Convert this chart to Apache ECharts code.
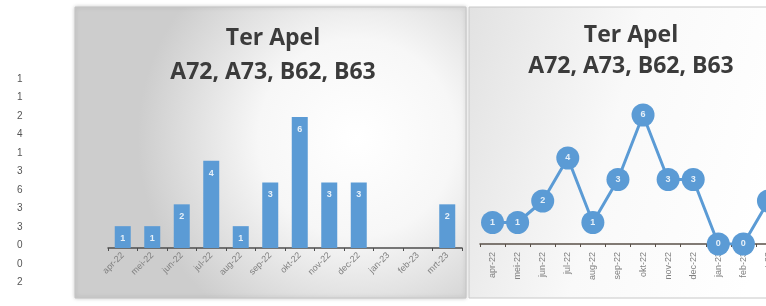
<!DOCTYPE html>
<html lang="nl">
<head>
    <meta charset="UTF-8">
    <title>Ter Apel A72, A73, B62, B63</title>
    <script src="https://cdn.jsdelivr.net/npm/echarts@6/dist/echarts.min.js"></script>
    <style>
        html, body { margin: 0; padding: 0; background: #ffffff; overflow: hidden; }
        /* breder dan het venster: de rechtergrafiek loopt door voorbij de rand */
        #chart { width: 800px; height: 306px; }
    </style>
</head>
<body>
    <div id="chart"></div>
    <script>
        // maanden en aantallen (apr-22 t/m mrt-23)
        var months = ['apr-22', 'mei-22', 'jun-22', 'jul-22', 'aug-22', 'sep-22',
                      'okt-22', 'nov-22', 'dec-22', 'jan-23', 'feb-23', 'mrt-23'];
        var counts = [1, 1, 2, 4, 1, 3, 6, 3, 3, 0, 0, 2];
        var titleLines = ['Ter Apel', 'A72, A73, B62, B63'];

        var blue = '#5b9bd5';
        var axisGray = '#4d4d4d';
        var titleFont = '"Open Sans", "Noto Sans", sans-serif';

        var myChart = echarts.init(document.getElementById('chart'));

        // kolom met getallen links
        var numberColumn = counts.map(function (v, i) {
            return {
                type: 'text',
                left: 17,
                top: 74 + i * 18.5,
                z: 5,
                style: { text: String(v), fill: '#555', font: '10px "Liberation Sans", sans-serif' }
            };
        });

        var option = {
            animation: false,
            graphic: [
                {
                    type: 'rect', z: -10,
                    shape: { x: 75, y: 7, width: 391, height: 291 },
                    style: {
                        fill: new echarts.graphic.RadialGradient(0.72, 0.45, 0.75, [
                            { offset: 0, color: '#ffffff' },
                            { offset: 0.45, color: '#f7f7f7' },
                            { offset: 1, color: '#cdcdcd' }
                        ]),
                        stroke: '#c4c4c4', lineWidth: 1,
                        shadowBlur: 4, shadowColor: 'rgba(0,0,0,0.2)'
                    }
                },
                {
                    type: 'rect', z: -10,
                    shape: { x: 469, y: 7, width: 330, height: 291 },
                    style: {
                        fill: new echarts.graphic.LinearGradient(0, 0, 1, 0.3, [
                            { offset: 0, color: '#e2e2e2' },
                            { offset: 0.5, color: '#f9f9f9' },
                            { offset: 1, color: '#ffffff' }
                        ]),
                        stroke: '#c8c8c8', lineWidth: 1
                    }
                }
            ].concat(numberColumn),
            title: [
                {
                    text: titleLines.join('\n'),
                    left: 268, top: 16, textAlign: 'center',
                    textStyle: { fontFamily: titleFont, fontWeight: 'bold', fontSize: 23, lineHeight: 34, color: '#3b3b3b' }
                },
                {
                    text: titleLines.join('\n'),
                    left: 626, top: 15, textAlign: 'center',
                    textStyle: { fontFamily: titleFont, fontWeight: 'bold', fontSize: 23, lineHeight: 31, color: '#3b3b3b' }
                }
            ],
            grid: [
                { left: 108, width: 354, top: 117, height: 131 },
                { left: 480, width: 301, top: 115, height: 129 }
            ],
            xAxis: [
                {
                    gridIndex: 0, type: 'category', data: months,
                    axisLine: { lineStyle: { color: axisGray, width: 1.5 } },
                    axisTick: { show: true, length: 3, lineStyle: { color: axisGray } },
                    axisLabel: { rotate: 45, interval: 0, fontSize: 9, color: '#808080', margin: 6 }
                },
                {
                    gridIndex: 1, type: 'category', data: months,
                    axisLine: { lineStyle: { color: '#5a5048', width: 1.5 } },
                    axisTick: { show: true, length: 3, lineStyle: { color: '#5a5048' } },
                    axisLabel: { rotate: 90, interval: 0, fontSize: 9, color: '#808080', margin: 8 }
                }
            ],
            yAxis: [
                { gridIndex: 0, type: 'value', min: 0, max: 6, show: false },
                { gridIndex: 1, type: 'value', min: 0, max: 6, show: false }
            ],
            series: [
                {
                    type: 'bar', xAxisIndex: 0, yAxisIndex: 0,
                    data: counts, barWidth: 16,
                    itemStyle: { color: blue },
                    label: {
                        show: true, position: 'insideTop', distance: 8,
                        color: 'rgba(255,255,255,0.85)', fontSize: 9, fontWeight: 'bold',
                        formatter: function (p) { return p.value > 0 ? p.value : ''; }
                    }
                },
                {
                    type: 'line', xAxisIndex: 1, yAxisIndex: 1,
                    data: counts, symbol: 'circle', symbolSize: 23,
                    lineStyle: { color: blue, width: 3 },
                    itemStyle: { color: blue },
                    label: {
                        show: true, position: 'inside',
                        color: 'rgba(255,255,255,0.85)', fontSize: 9, fontWeight: 'bold'
                    }
                }
            ]
        };
        myChart.setOption(option);
    </script>
</body>
</html>
